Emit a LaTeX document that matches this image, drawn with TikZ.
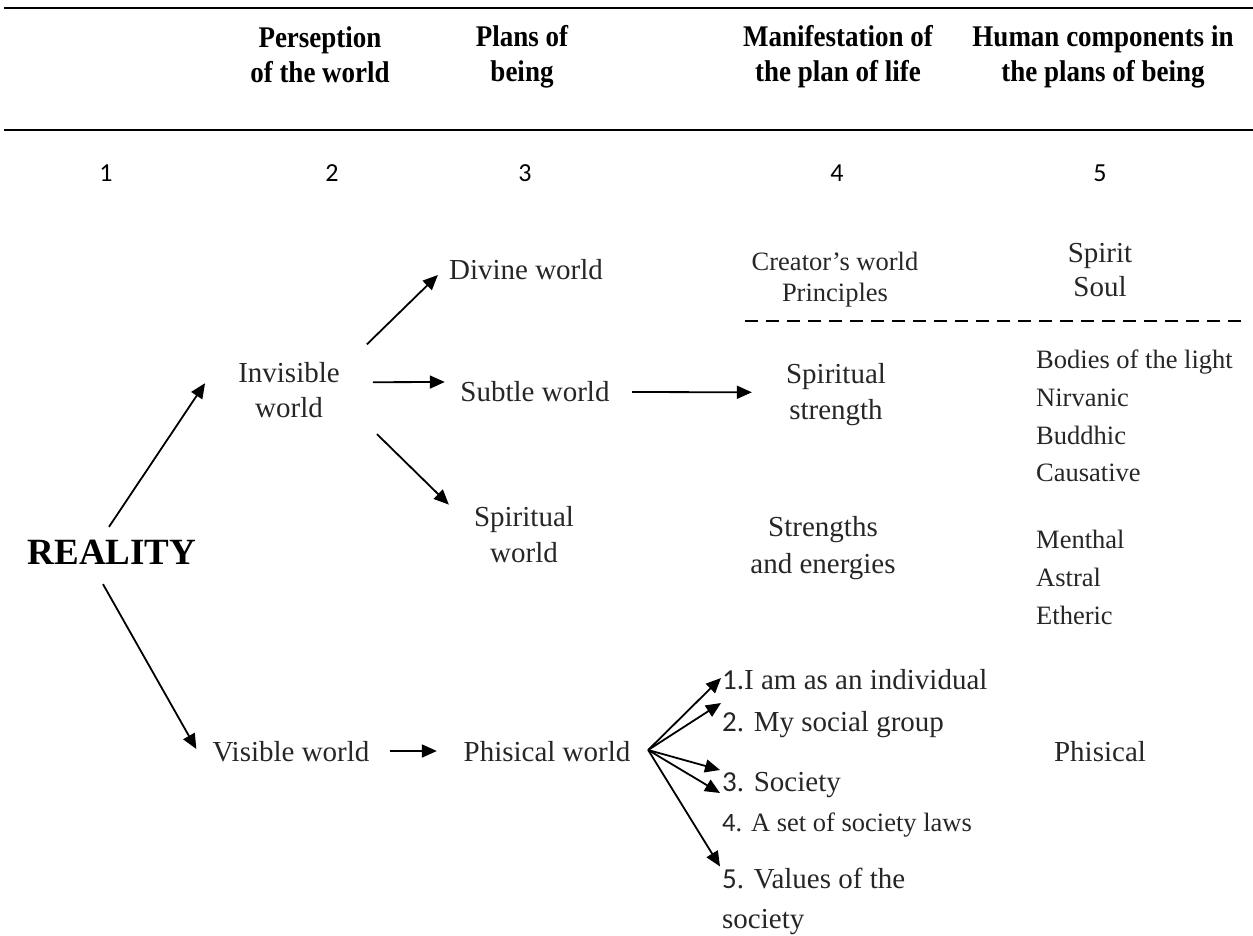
\documentclass[tikz,border=0pt]{standalone}
\usepackage{fontspec}
\setmainfont{Liberation Serif}
\newfontfamily\numfont{Carlito}
\newfontfamily\hdfont[FakeStretch=0.9]{Liberation Serif}
\usetikzlibrary{arrows.meta}
\definecolor{txt}{HTML}{262626}
\begin{document}
\begin{tikzpicture}[x=1pt,y=-1pt,
  lbl/.style={inner sep=0pt, text=txt, font=\fontsize{29}{35}\selectfont, align=center},
  sml/.style={inner sep=0pt, text=txt, font=\fontsize{26.5}{31}\selectfont, align=center},
  hdr/.style={inner sep=0pt, text=black, font=\hdfont\fontsize{30}{35}\selectfont\bfseries, align=center},
  num/.style={inner sep=0pt, text=black, font=\fontsize{26}{30}\numfont},
  lst/.style={inner sep=0pt, text=txt, font=\fontsize{26.5}{37.7}\selectfont, align=left, anchor=west},
  itm/.style={inner sep=0pt, text=txt, font=\fontsize{29}{40}\selectfont, align=left, anchor=west},
  arr/.style={-{Triangle[length=15pt,width=13pt]}, line width=1.8pt},
  hrule/.style={line width=2.6pt},
  dline/.style={line width=2pt, dash pattern=on 13pt off 8pt}]
\useasboundingbox (0,0) rectangle (1253,935);

% header rules
\draw[hrule] (4,8) -- (1253,8);
\draw[hrule] (4,130) -- (1253,130);

% headers
\node[hdr] (h2) at (320,54.3) {Perseption\\of the world};
\node[hdr] (h3) at (522,57) {Plans of\\being};
\node[hdr] (h4) at (838,57) {Manifestation of\\the plan of life};
\node[hdr] (h5) at (1103,57) {Human components in\\the plans of being};

% column numbers
\node[num] (n1) at (106,173) {1};
\node[num] (n2) at (332,173) {2};
\node[num] (n3) at (525,173) {3};
\node[num] (n4) at (837,173) {4};
\node[num] (n5) at (1100,173) {5};

% texts
\node[inner sep=0pt, text=black, font=\fontsize{37}{42}\selectfont\bfseries] (rea) at (112,552) {REALITY};
\node[lbl] (inv) at (289,390.2) {Invisible\\world};
\node[lbl] (vis) at (291,752) {Visible world};

\node[lbl] (div) at (526,270) {Divine world};
\node[lbl] (sub) at (535,392) {Subtle world};
\node[lbl, font=\fontsize{29}{36}\selectfont] (spw) at (524,535) {Spiritual\\world};
\node[lbl] (phw) at (547,752) {Phisical world};

\node[sml] (cre) at (835,280) {Creator’s world\\Principles};
\node[lbl, font=\fontsize{29}{36}\selectfont] (sst) at (836,394.3) {Spiritual\\strength};
\node[lbl, font=\fontsize{29}{37}\selectfont] (sae) at (823,548.4) {Strengths\\and energies};

\node[lbl, font=\fontsize{29}{34}\selectfont] (sps) at (1100,269.8) {Spirit\\Soul};
\node[lst] (bod) at (1036,416.2) {Bodies of the light\\Nirvanic\\Buddhic\\Causative};
\node[lst, font=\fontsize{26.5}{38}\selectfont] (men) at (1036,577.7) {Menthal\\Astral\\Etheric};
\node[lbl] (phr) at (1100,752) {Phisical};

\node[itm] (i1) at (722,680) {{\numfont 1.}I am as an individual};
\node[itm] (i2) at (722,725) {{\numfont 2}. My social group};
\node[itm] (i3) at (722,785) {{\numfont 3}. Society};
\node[itm, font=\fontsize{26.5}{32}\selectfont] (i4) at (722,825) {{\numfont 4}. A set of society laws};
\node[itm] (i5) at (722,901) {{\numfont 5}. Values of the\\society};

% dashed separator
\coordinate (dl) at (745,321);
\coordinate (dr) at (1245,321);
\draw[dline] (dl) -- (dr);

% connectors
\draw[arr] ([xshift=-3pt,yshift=12.75pt]rea.north) -- ([xshift=-33pt,yshift=7pt]inv.west);
\draw[arr] ([xshift=-9pt,yshift=-19.75pt]rea.south) -- ([xshift=-16pt,yshift=3pt]vis.west);

\draw[arr] ([xshift=27pt,yshift=18pt]inv.north east) -- ([xshift=-11pt,yshift=-5pt]div.west);
\draw[arr] ([xshift=33pt,yshift=8pt]inv.east) -- ([xshift=-15.5pt,yshift=10pt]sub.west);
\draw[arr] ([xshift=37pt,yshift=-16pt]inv.south east) -- ([xshift=-25pt,yshift=2pt]spw.north west);

\draw[arr] ([xshift=22.5pt]sub.east) -- ([xshift=-34pt,yshift=2pt]sst.west);
\draw[arr] ([xshift=20pt,yshift=1pt]vis.east) -- ([xshift=-26.6pt,yshift=1pt]phw.west);

\coordinate (fan) at ([xshift=17.6pt,yshift=2pt]phw.east);
\draw[arr] (fan) -- ([xshift=-1pt,yshift=2pt]i1.west);
\draw[arr] (fan) -- ([xshift=-1pt,yshift=22pt]i2.west);
\draw[arr] (fan) -- ([xshift=-2pt,yshift=15pt]i3.west);
\draw[arr] (fan) -- ([xshift=-2pt,yshift=32pt]i4.west);
\draw[arr] (fan) -- ([xshift=-2pt,yshift=1pt]i5.north west);
\end{tikzpicture}
\end{document}
